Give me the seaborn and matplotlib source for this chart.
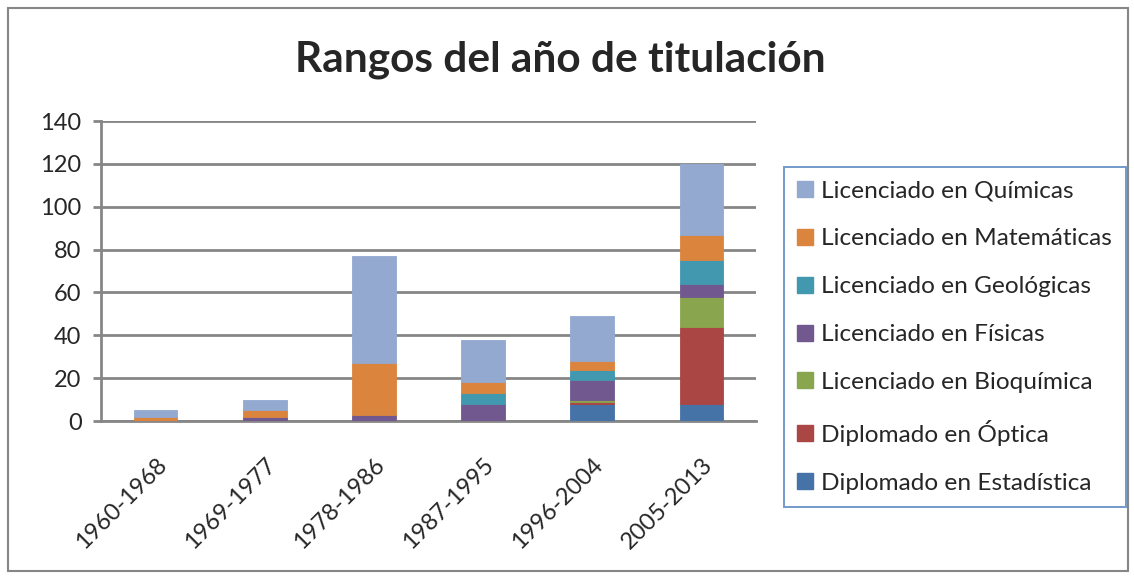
import numpy as np
import matplotlib
matplotlib.use("Agg")
import matplotlib.pyplot as plt
import matplotlib.patches as mpatches
import seaborn as sns

sns.set_style("white")
plt.rcParams["font.family"] = ["Lato", "DejaVu Sans"]

# data (stack order bottom -> top)
periods = ["1960-1968", "1969-1977", "1978-1986", "1987-1995", "1996-2004", "2005-2013"]
estadistica = [0, 0, 0, 0, 8, 8]
optica = [0, 0, 0, 0, 1, 36]
bioquimica = [0, 0, 0, 0, 1, 14]
fisicas = [0, 2, 3, 8, 9, 6]
geologicas = [0, 0, 0, 5, 5, 11]
matematicas = [2, 3, 24, 5, 4, 12]
quimicas = [3, 5, 50, 20, 21, 33]

series = [
    ("Diplomado en Estadística", estadistica, "#4572A7"),
    ("Diplomado en Óptica", optica, "#AA4643"),
    ("Licenciado en Bioquímica", bioquimica, "#89A54E"),
    ("Licenciado en Físicas", fisicas, "#71588F"),
    ("Licenciado en Geológicas", geologicas, "#4198AF"),
    ("Licenciado en Matemáticas", matematicas, "#DB843D"),
    ("Licenciado en Químicas", quimicas, "#93A9CF"),
]

fig = plt.figure(figsize=(11.34, 5.77), dpi=100)
ax = fig.add_axes([101 / 1134, 1 - 421 / 577, 655 / 1134, 300 / 577])

bottom = np.zeros(len(periods))
handles = []
for name, vals, color in series:
    sns.barplot(x=periods, y=vals, bottom=bottom, color=color, width=0.4,
                saturation=1, ax=ax, linewidth=0.6, edgecolor=color, zorder=3)
    bottom += np.array(vals)
    handles.append(mpatches.Patch(facecolor=color, edgecolor=color, label=name))

grey = "#868686"
ax.set_ylim(0, 140)
ax.set_xlim(-0.5, len(periods) - 0.5)
ax.set_yticks(range(0, 141, 20))
ax.yaxis.grid(True, color=grey, linewidth=2, zorder=0)
ax.set_axisbelow(True)
for side in ["top", "right"]:
    ax.spines[side].set_visible(False)
for side in ["left", "bottom"]:
    ax.spines[side].set_color(grey)
    ax.spines[side].set_linewidth(2)

ax.set_xticks(np.arange(len(periods)))
ax.set_xticklabels(periods, rotation=45, ha="right", rotation_mode="anchor", fontsize=17)
ax.tick_params(axis="x", length=0, pad=24)
ax.set_xticks(np.arange(-0.5, len(periods)), minor=True)
ax.tick_params(axis="x", which="minor", length=7, width=2, color=grey, direction="out")
ax.tick_params(axis="y", labelsize=17, length=6, width=2, color=grey, direction="out", pad=8)
ax.tick_params(axis="both", bottom=True, left=True)
ax.set_xlabel("")
ax.set_ylabel("")

fig.text(560 / 1134, 1 - 60 / 577, "Rangos del año de titulación", ha="center", va="center",
         fontsize=30.5, fontweight="bold")

leg = fig.legend(handles=handles[::-1], loc="upper left",
                 bbox_to_anchor=(784 / 1134, 1 - 167 / 577), fontsize=17.6,
                 frameon=True, fancybox=False, handlelength=0.63, handleheight=0.63,
                 handletextpad=0.35, labelspacing=1.1, borderpad=0.55, borderaxespad=0)
leg.get_frame().set_edgecolor("#4F81BD")
leg.get_frame().set_linewidth(1.4)

fig.patches.append(mpatches.Rectangle((8 / 1134, 6 / 577), 1120 / 1134, 563 / 577,
                                      transform=fig.transFigure, fill=False,
                                      edgecolor=grey, linewidth=1.5))

fig.savefig("out.png", dpi=100)
